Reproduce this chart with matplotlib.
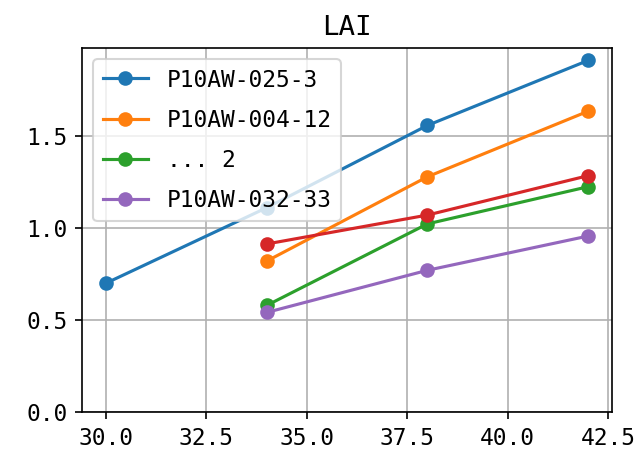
import matplotlib
matplotlib.use('Agg')
import matplotlib.pyplot as plt

plt.rcParams.update({
    'font.family': ['DejaVu Sans Mono', 'Noto Sans CJK SC'],
    'font.size': 11,
    'axes.unicode_minus': False,
})

# data
x_blue = [30, 34, 38, 42]
y_blue = [0.70, 1.11, 1.557, 1.91]
x_rest = [34, 38, 42]
y_orange = [0.82, 1.278, 1.634]
y_green = [0.579, 1.022, 1.224]
y_red = [0.913, 1.07, 1.284]
y_purple = [0.541, 0.770, 0.956]
labels = ['P10AW-025-3', 'P10AW-004-12', '... 2', 'P10AW-032-33']
xticks = [30.0, 32.5, 35.0, 37.5, 40.0, 42.5]
yticks = [0.0, 0.5, 1.0, 1.5]

fig = plt.figure(figsize=(635/150, 456/150), dpi=150)
ax = fig.add_subplot(111)
ax.plot(x_blue, y_blue, marker='o', label=labels[0])
ax.plot(x_rest, y_orange, marker='o', label=labels[1])
ax.plot(x_rest, y_green, marker='o', label=labels[2])
ax.plot(x_rest, y_red, marker='o')
ax.plot(x_rest, y_purple, marker='o', label=labels[3])
ax.set_ylim(bottom=0)
ax.set_xticks(xticks)
ax.set_xticklabels([f'{v:.1f}' for v in xticks])
ax.set_yticks(yticks)
ax.set_yticklabels([f'{v:.1f}' for v in yticks])
ax.set_title('LAI')
ax.grid(True)
ax.legend(loc='upper left', labelspacing=0.75)
fig.subplots_adjust(left=0.129, right=0.964, bottom=0.0965, top=0.895)
fig.savefig('out.png', dpi=150)
